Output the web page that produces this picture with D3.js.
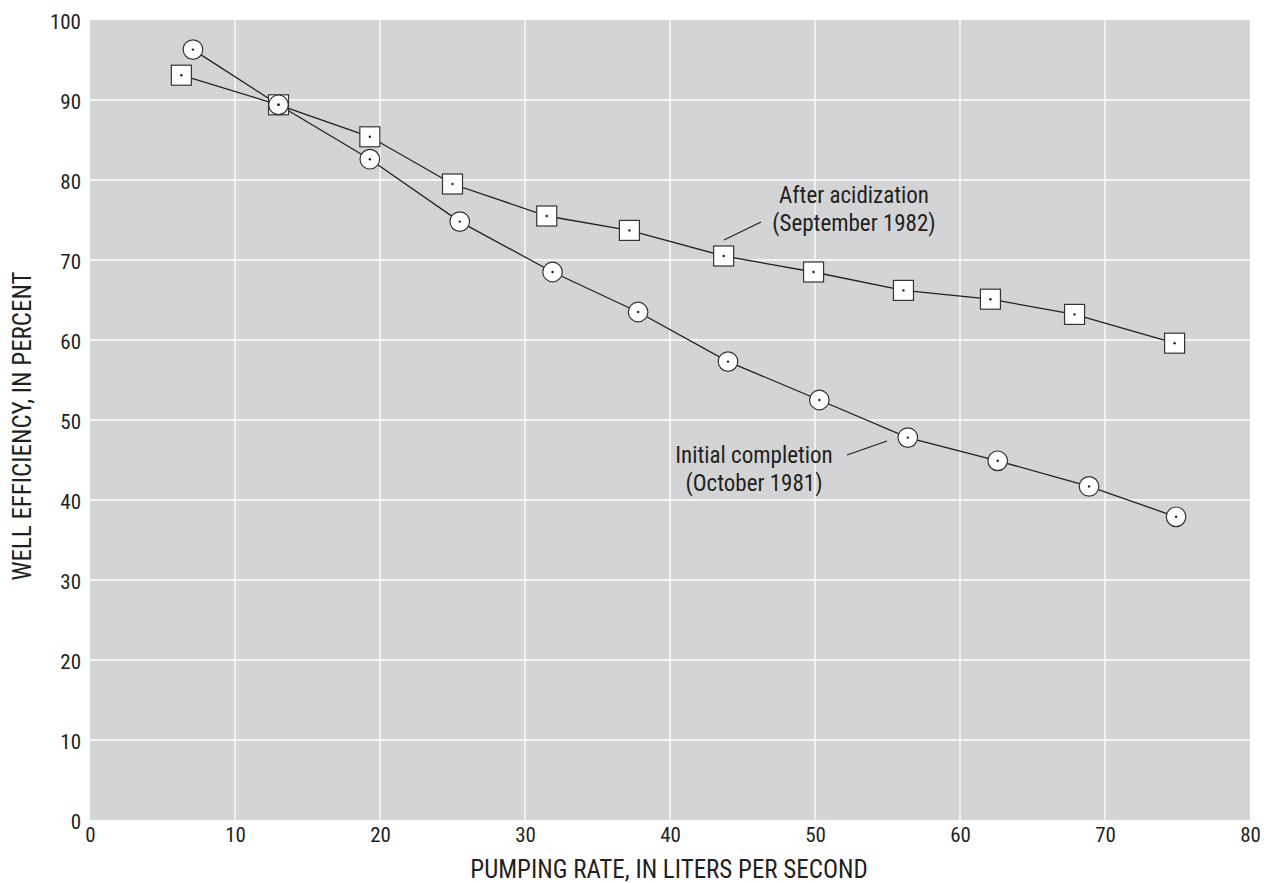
<!DOCTYPE html>
<html><head><meta charset="utf-8">
<script src="https://cdn.jsdelivr.net/npm/d3@7"></script>
<style>
body{margin:0;background:#fff;}
text{font-family:"Liberation Sans Narrow","Roboto Condensed","DejaVu Sans Condensed",sans-serif;fill:#231f20;}
</style></head>
<body>
<svg id="c" width="1271" height="883"></svg>
<script>
const xTicks = [0,10,20,30,40,50,60,70,80];
const yTicks = [0,10,20,30,40,50,60,70,80,90,100];
const initialRate = [7.1,13.0,19.3,25.5,31.9,37.8,44.0,50.3,56.4,62.6,68.9,74.9];
const initialEff  = [96.3,89.4,82.6,74.8,68.5,63.5,57.3,52.5,47.8,44.9,41.7,37.9];
const acidRate = [6.3,13.0,19.3,25.0,31.5,37.2,43.7,49.9,56.1,62.1,67.9,74.8];
const acidEff  = [93.1,89.4,85.4,79.5,75.5,73.7,70.5,68.5,66.2,65.1,63.2,59.6];
const xTitle = "PUMPING RATE, IN LITERS PER SECOND";
const yTitle = "WELL EFFICIENCY, IN PERCENT";

const svg = d3.select("#c");
const L=90,R=1250,T=20,B=820;
const x = d3.scaleLinear().domain([0,80]).range([L,R]);
const y = d3.scaleLinear().domain([0,100]).range([B,T]);
const ink="#231f20";

svg.append("rect").attr("x",L).attr("y",T).attr("width",R-L).attr("height",B-T).attr("fill","#d3d4d6");
svg.append("g").selectAll("line").data(xTicks.slice(1,-1)).join("line")
  .attr("x1",d=>x(d)).attr("x2",d=>x(d)).attr("y1",T).attr("y2",B)
  .attr("stroke","#fff").attr("stroke-width",1.3);
svg.append("g").selectAll("line").data(yTicks.slice(1,-1)).join("line")
  .attr("y1",d=>y(d)).attr("y2",d=>y(d)).attr("x1",L).attr("x2",R)
  .attr("stroke","#fff").attr("stroke-width",1.3);

// axes (labels only)
const xa = svg.append("g").attr("transform",`translate(0,${B})`).call(d3.axisBottom(x).tickValues(xTicks).tickSize(0).tickPadding(7));
xa.select(".domain").remove();
xa.selectAll("text").attr("font-size",21).style("fill",ink).attr("font-family",null);
const ya = svg.append("g").attr("transform",`translate(${L},0)`).call(d3.axisLeft(y).tickValues(yTicks).tickSize(0).tickPadding(9));
ya.select(".domain").remove();
ya.selectAll("text").attr("font-size",21).style("fill",ink).attr("font-family",null).attr("dy","0.4em");

svg.append("text").attr("x",(L+R)/2 - 1).attr("y",878).attr("text-anchor","middle").attr("font-size",25).text(xTitle);
svg.append("text").attr("transform",`translate(31,426) rotate(-90)`).attr("text-anchor","middle").attr("font-size",25).text(yTitle);

const line = d3.line().x(d=>x(d[0])).y(d=>y(d[1]));
const acid = acidRate.map((r,i)=>[r,acidEff[i]]);
const init = initialRate.map((r,i)=>[r,initialEff[i]]);
svg.append("path").datum(acid).attr("d",line).attr("fill","none").attr("stroke",ink).attr("stroke-width",1.3);
svg.append("path").datum(init).attr("d",line).attr("fill","none").attr("stroke",ink).attr("stroke-width",1.3);

const s=20;
svg.append("g").selectAll("rect").data(acid).join("rect")
  .attr("x",d=>x(d[0])-s/2).attr("y",d=>y(d[1])-s/2).attr("width",s).attr("height",s)
  .attr("fill","#fff").attr("stroke","#333").attr("stroke-width",1.2);
svg.append("g").selectAll("circle").data(init).join("circle")
  .attr("cx",d=>x(d[0])).attr("cy",d=>y(d[1])).attr("r",9.8)
  .attr("fill","#fff").attr("stroke","#333").attr("stroke-width",1.2);
svg.append("g").selectAll("circle").data(acid.concat(init)).join("circle")
  .attr("cx",d=>x(d[0])).attr("cy",d=>y(d[1])).attr("r",1.2).attr("fill",ink);

// annotations
const ann = svg.append("g").attr("font-size",23).attr("text-anchor","middle");
ann.append("text").attr("x",854).attr("y",203).text("After acidization");
ann.append("text").attr("x",854).attr("y",231).text("(September 1982)");
ann.append("text").attr("x",754).attr("y",463).text("Initial completion");
ann.append("text").attr("x",754).attr("y",491).text("(October 1981)");
svg.append("line").attr("x1",724).attr("y1",240).attr("x2",761).attr("y2",222).attr("stroke",ink).attr("stroke-width",1.3);
svg.append("line").attr("x1",847).attr("y1",455).attr("x2",887).attr("y2",441).attr("stroke",ink).attr("stroke-width",1.3);
</script>
</body></html>
